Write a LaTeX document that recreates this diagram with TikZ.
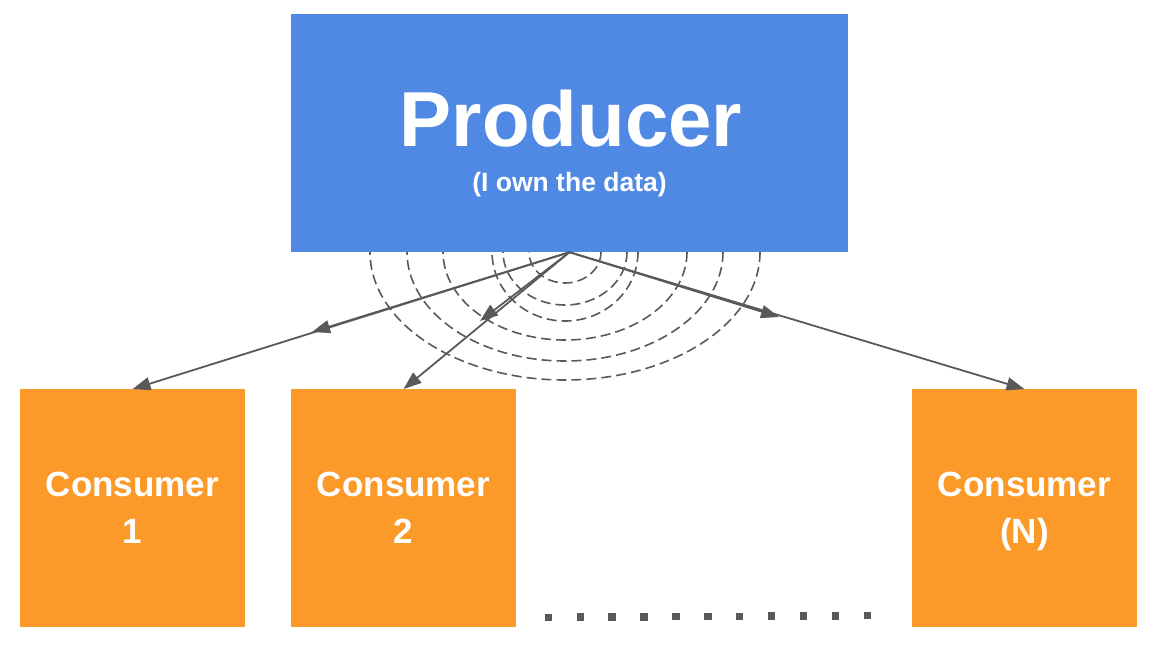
\documentclass[tikz,border=0pt]{standalone}
\usepackage{fontspec}
\setmainfont{Liberation Sans}
\usepackage{tikz}
\usetikzlibrary{arrows.meta}
\definecolor{prodblue}{RGB}{80,137,227}
\definecolor{consorange}{RGB}{252,154,41}
\definecolor{linegray}{RGB}{89,89,89}

\begin{document}
\begin{tikzpicture}[x=1pt,y=-1pt,
  consbox/.style={fill=consorange,minimum width=225pt,minimum height=238pt,inner sep=0pt},
  arr/.style={linegray,line width=1.8pt,-{Triangle[length=18pt,width=13pt]}},
  wave/.style={linegray,line width=1.6pt,dash pattern=on 10pt off 5pt},
  lbl/.style={white,font=\bfseries\fontsize{35}{47}\selectfont,align=center,anchor=base}]
\useasboundingbox (0,0) rectangle (1166,646);
%\draw[step=50,lightgray,very thin] (0,0) grid (1166,646);
% waves under the producer
\coordinate (src) at (565,252);
\foreach \rx/\ry in {36/31,62/53,73/69,122/88,158/109,195/128}
  \draw[wave] (src) ++(\rx,0) arc[start angle=0,end angle=180,x radius=\rx,y radius=\ry];
% producer
\node[fill=prodblue,minimum width=557pt,minimum height=238pt,inner sep=0pt] (prod) at (569.5,133) {};
\node[white,anchor=base,font=\bfseries\fontsize{78}{78}\selectfont] (prodname) at (571,146.5) {Producer};
\node[white,anchor=base,font=\bfseries\fontsize{26.5}{26.5}\selectfont] (prodnote) at (569.5,191.5) {(I own the data)};
% consumers (base = last line)
\node[consbox] (cons1) at (132.5,508.3) {};
\node[consbox] (cons2) at (403.5,508.3) {};
\node[consbox] (consN) at (1024.5,508.3) {};
\node[lbl] at (132.5,543.3) {Consumer\\1};
\node[lbl] at (403.5,543.3) {Consumer\\2};
\node[lbl] at (1024.5,543.3) {Consumer\\(N)};
% arrows
\coordinate (mid1) at (312,332);
\coordinate (mid2) at (480,321);
\coordinate (midN) at (779,317);
\draw[arr] (prod.south) -- (mid1);
\draw[arr] (prod.south) -- (cons1.north);
\draw[arr] (prod.south) -- (mid2);
\draw[arr] (prod.south) -- (cons2.north);
\draw[arr] (prod.south) -- (midN);
\draw[arr] (prod.south) -- (consN.north);
% dots
\foreach \i in {0,...,10}
  \fill[linegray] ({548.3+31.9*\i-3.7},{617.3-0.16*\i-3.7}) rectangle ++(7.4,7.4);
\end{tikzpicture}
\end{document}
